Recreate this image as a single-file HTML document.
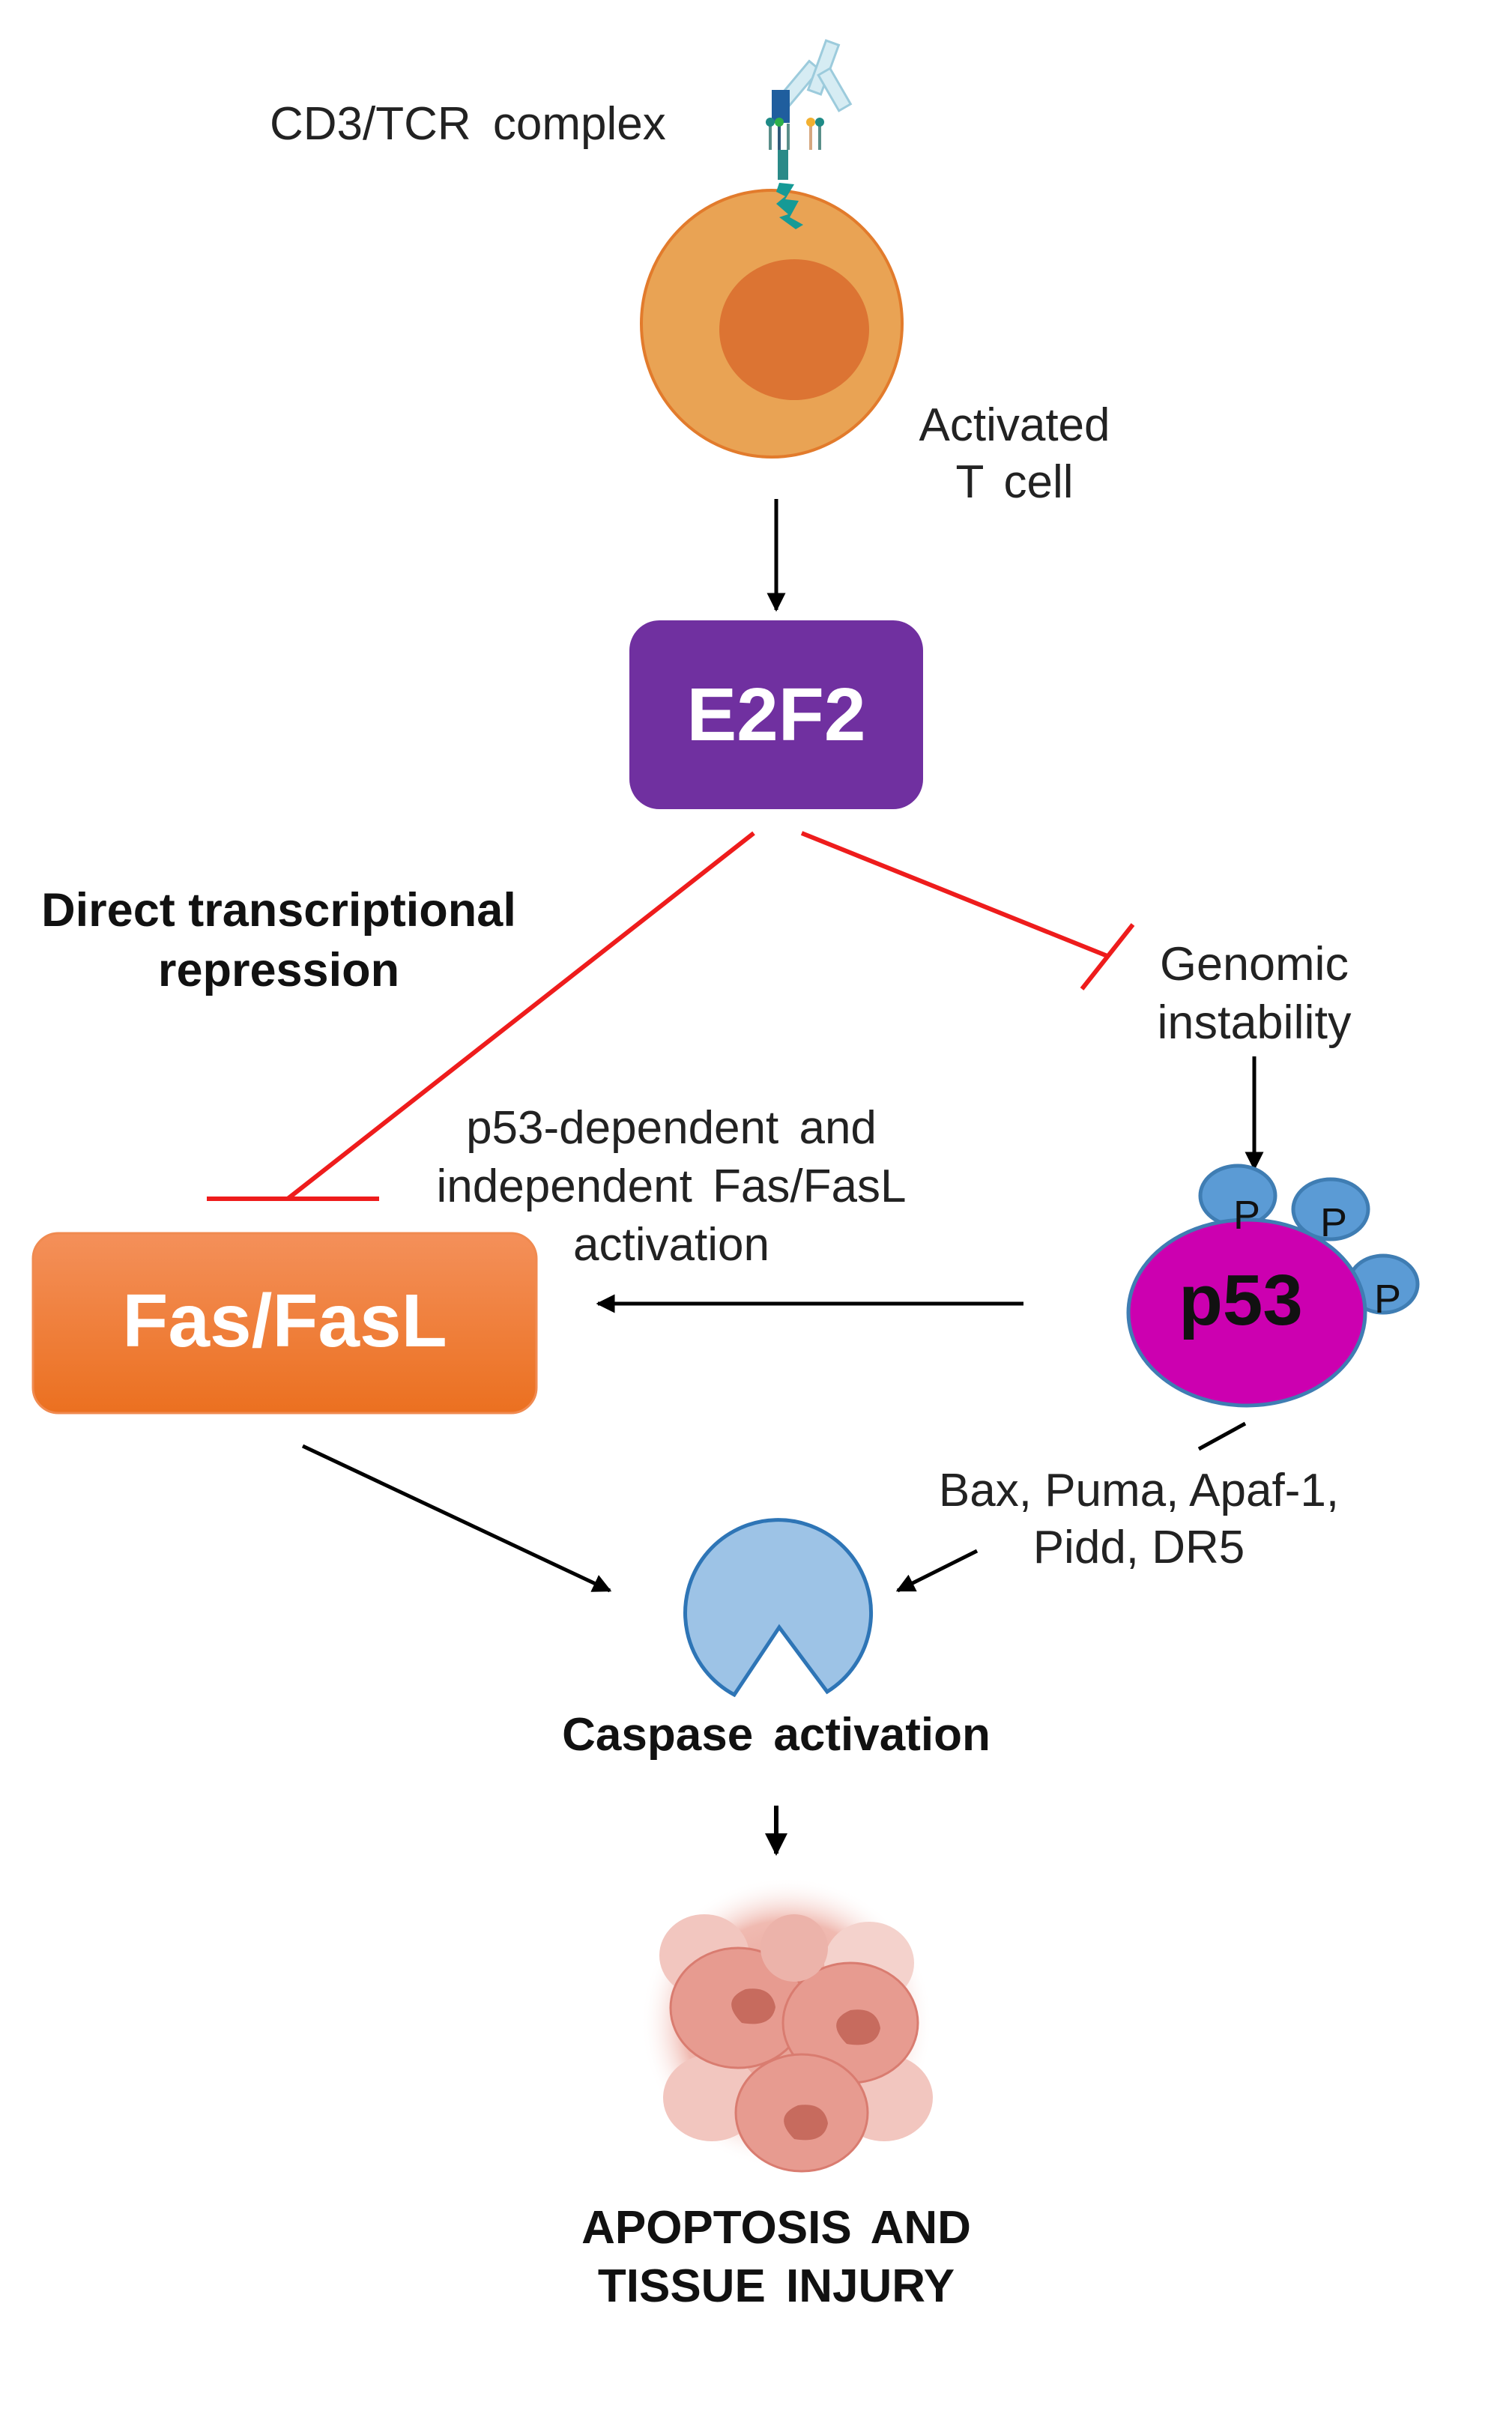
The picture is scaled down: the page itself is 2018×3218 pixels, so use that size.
<!DOCTYPE html>
<html><head><meta charset="utf-8"><style>
html,body{margin:0;padding:0;background:#fff;}
svg{display:block;}
text{font-family:"Liberation Sans",Arial,sans-serif;}
</style></head><body>
<svg width="2018" height="3218" viewBox="0 0 2018 3218" xmlns="http://www.w3.org/2000/svg">
<defs>
<marker id="ah" viewBox="0 0 10 10" refX="9" refY="5" markerWidth="5" markerHeight="5" orient="auto"><path d="M0,0 L10,5 L0,10 z" fill="#000"/></marker>
<linearGradient id="og" x1="0" y1="0" x2="0" y2="1"><stop offset="0" stop-color="#f4905a"/><stop offset="1" stop-color="#eb7020"/></linearGradient>
<radialGradient id="blob" cx="0.5" cy="0.5" r="0.5"><stop offset="0" stop-color="#e59a8e"/><stop offset="0.7" stop-color="#f0bab1"/><stop offset="1" stop-color="#fff" stop-opacity="0"/></radialGradient>
</defs>

<text x="360" y="186" font-size="62" fill="#222" word-spacing="12">CD3/TCR complex</text>

<!-- antibody -->
<g fill="#d6ecf3" stroke="#9ccbdc" stroke-width="3">
<rect x="1058" y="80" width="18" height="62" transform="rotate(40 1067 111)"/>
<rect x="1090" y="55" width="18" height="70" transform="rotate(20 1099 90)"/>
<rect x="1105" y="92" width="18" height="55" transform="rotate(-30 1114 120)"/>
</g>
<!-- receptor -->
<rect x="1030" y="120" width="24" height="44" fill="#1f5e9e"/>
<g stroke-width="4">
<line x1="1028" y1="165" x2="1028" y2="200" stroke="#5a8f8a"/>
<line x1="1040" y1="165" x2="1040" y2="200" stroke="#2f5a7a"/>
<line x1="1052" y1="165" x2="1052" y2="200" stroke="#5a8f8a"/>
<line x1="1082" y1="165" x2="1082" y2="200" stroke="#d6a880"/>
<line x1="1094" y1="165" x2="1094" y2="200" stroke="#5a8f8a"/>
</g>
<circle cx="1028" cy="163" r="6" fill="#1e8a86"/><circle cx="1040" cy="163" r="6" fill="#2db04a"/>
<circle cx="1082" cy="163" r="6" fill="#f2b030"/><circle cx="1094" cy="163" r="6" fill="#1e8a86"/>

<!-- cell -->
<ellipse cx="1030" cy="432" rx="174" ry="178" fill="#e9a354" stroke="#e27b2c" stroke-width="4"/>
<ellipse cx="1060" cy="440" rx="100" ry="94" fill="#dc7433"/>
<rect x="1038" y="200" width="14" height="40" fill="#2a8a88"/>
<path d="M1040,244 L1060,246 L1048,266 L1066,268 L1054,290 L1072,300 L1062,306 L1040,290 L1052,286 L1036,272 L1048,262 L1036,256 z" fill="#159a96"/>

<text x="1354" y="588" font-size="62" fill="#222" text-anchor="middle">Activated</text>
<text x="1354" y="664" font-size="62" fill="#222" text-anchor="middle" word-spacing="10">T cell</text>

<line x1="1036" y1="666" x2="1036" y2="814" stroke="#000" stroke-width="5" marker-end="url(#ah)"/>

<rect x="840" y="828" width="392" height="252" rx="40" fill="#7030a0"/>
<text x="1036" y="988" font-size="100" font-weight="bold" fill="#fff" text-anchor="middle">E2F2</text>

<text x="372" y="1236" font-size="63" font-weight="bold" fill="#111" text-anchor="middle">Direct transcriptional</text>
<text x="372" y="1316" font-size="63" font-weight="bold" fill="#111" text-anchor="middle">repression</text>

<g stroke="#ee1c1c" stroke-width="6">
<line x1="1006" y1="1112" x2="384" y2="1600"/>
<line x1="276" y1="1600" x2="506" y2="1600"/>
<line x1="1070" y1="1112" x2="1478" y2="1276"/>
<line x1="1444" y1="1320" x2="1512" y2="1234"/>
</g>

<text x="1674" y="1308" font-size="63" fill="#222" text-anchor="middle">Genomic</text>
<text x="1674" y="1386" font-size="63" fill="#222" text-anchor="middle">instability</text>
<line x1="1674" y1="1410" x2="1674" y2="1560" stroke="#000" stroke-width="5" marker-end="url(#ah)"/>

<!-- p53 -->
<g stroke="#3f7db3" stroke-width="5" fill="#5b9bd5">
<ellipse cx="1652" cy="1596" rx="50" ry="40"/>
<ellipse cx="1776" cy="1614" rx="50" ry="40"/>
<ellipse cx="1846" cy="1714" rx="46" ry="38"/>
</g>
<ellipse cx="1664" cy="1752" rx="158" ry="124" fill="#cc00b0" stroke="#3f7db3" stroke-width="5"/>
<text x="1664" y="1640" font-size="54" fill="#111" text-anchor="middle">P</text>
<text x="1780" y="1650" font-size="54" fill="#111" text-anchor="middle">P</text>
<text x="1852" y="1752" font-size="54" fill="#111" text-anchor="middle">P</text>
<text x="1656" y="1768" font-size="96" font-weight="bold" fill="#111" text-anchor="middle">p53</text>

<text x="896" y="1526" font-size="62" fill="#222" text-anchor="middle" word-spacing="10">p53-dependent and</text>
<text x="896" y="1604" font-size="62" fill="#222" text-anchor="middle" word-spacing="10">independent Fas/FasL</text>
<text x="896" y="1682" font-size="62" fill="#222" text-anchor="middle">activation</text>

<line x1="1366" y1="1740" x2="798" y2="1740" stroke="#000" stroke-width="5" marker-end="url(#ah)"/>

<rect x="44" y="1646" width="672" height="240" rx="34" fill="url(#og)" stroke="#f08a50" stroke-width="3"/>
<text x="380" y="1797" font-size="100" font-weight="bold" fill="#fff" text-anchor="middle">Fas/FasL</text>

<line x1="404" y1="1930" x2="814" y2="2123" stroke="#000" stroke-width="5" marker-end="url(#ah)"/>
<line x1="1662" y1="1900" x2="1600" y2="1934" stroke="#000" stroke-width="5"/>
<text x="1520" y="2010" font-size="62" fill="#222" text-anchor="middle">Bax, Puma, Apaf-1,</text>
<text x="1520" y="2086" font-size="62" fill="#222" text-anchor="middle">Pidd, DR5</text>
<line x1="1304" y1="2070" x2="1198" y2="2123" stroke="#000" stroke-width="5" marker-end="url(#ah)"/>

<!-- caspase pacman -->
<path d="M980,2262 A124,124 0 1 1 1104,2258 L1040,2172 z" fill="#9dc3e6" stroke="#2e75b6" stroke-width="5"/>
<text x="1036" y="2336" font-size="62" font-weight="bold" fill="#111" text-anchor="middle" word-spacing="10">Caspase activation</text>

<line x1="1036" y1="2410" x2="1036" y2="2474" stroke="#000" stroke-width="6" marker-end="url(#ah)"/>

<!-- apoptosis blob -->
<g>
<circle cx="1050" cy="2700" r="195" fill="url(#blob)"/>
<ellipse cx="940" cy="2610" rx="60" ry="55" fill="#f2c6bf"/>
<ellipse cx="1160" cy="2620" rx="60" ry="55" fill="#f4d2cc"/>
<ellipse cx="950" cy="2800" rx="65" ry="58" fill="#f2c6bf"/>
<ellipse cx="1180" cy="2800" rx="65" ry="58" fill="#f2c6bf"/>
<ellipse cx="985" cy="2680" rx="90" ry="80" fill="#e79b90" stroke="#d97c70" stroke-width="3"/>
<ellipse cx="1135" cy="2700" rx="90" ry="80" fill="#e79b90" stroke="#d97c70" stroke-width="3"/>
<ellipse cx="1070" cy="2820" rx="88" ry="78" fill="#e79b90" stroke="#d97c70" stroke-width="3"/>
<ellipse cx="1060" cy="2600" rx="45" ry="45" fill="#ecb3aa"/>
<path d="M990,2700 q-30,-30 5,-45 q35,-5 40,24 q-5,28 -45,21z" fill="#c76b5e"/>
<path d="M1130,2728 q-30,-30 5,-45 q35,-5 40,24 q-5,28 -45,21z" fill="#c76b5e"/>
<path d="M1060,2855 q-30,-30 5,-45 q35,-5 40,24 q-5,28 -45,21z" fill="#c76b5e"/>
</g>

<text x="1036" y="2994" font-size="62" font-weight="bold" fill="#111" text-anchor="middle" word-spacing="10">APOPTOSIS AND</text>
<text x="1036" y="3072" font-size="62" font-weight="bold" fill="#111" text-anchor="middle" word-spacing="10">TISSUE INJURY</text>
</svg>
</body></html>
